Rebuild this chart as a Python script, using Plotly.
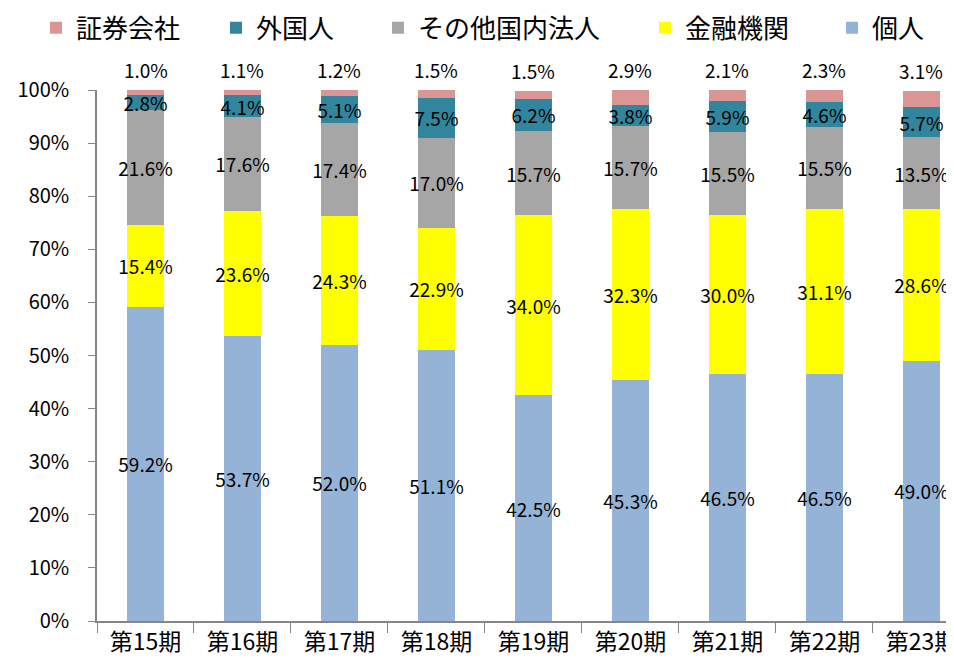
import plotly.graph_objects as go

categories = ["第15期", "第16期", "第17期", "第18期", "第19期", "第20期", "第21期", "第22期", "第23期"]
kojin = [59.2, 53.7, 52.0, 51.1, 42.5, 45.3, 46.5, 46.5, 49.0]
kinyu = [15.4, 23.6, 24.3, 22.9, 34.0, 32.3, 30.0, 31.1, 28.6]
sonota = [21.6, 17.6, 17.4, 17.0, 15.7, 15.7, 15.5, 15.5, 13.5]
gaikoku = [2.8, 4.1, 5.1, 7.5, 6.2, 3.8, 5.9, 4.6, 5.7]
shoken = [1.0, 1.1, 1.2, 1.5, 1.5, 2.9, 2.1, 2.3, 3.1]

series = [
    ("個人", kojin, "#95B3D7", 60),
    ("金融機関", kinyu, "#FFFF00", 142),
    ("その他国内法人", sonota, "#A6A6A6", 222),
    ("外国人", gaikoku, "#31859C", 117),
    ("証券会社", shoken, "#D99694", 135),
]

FONT = "Noto Sans CJK JP"
fig = go.Figure()
for name, vals, color, lw in series:
    inside = name != "証券会社"
    fig.add_trace(go.Bar(
        x=categories, y=vals, name=name,
        marker=dict(color=color, line=dict(width=0)),
        text=[f"{v:.1f}%" for v in vals] if inside else None,
        textposition="inside" if inside else "none",
        insidetextanchor="middle",
        textangle=0,
        constraintext="none",
        textfont=dict(family=FONT, size=19, color="black"),
        width=0.39,
        legendwidth=lw,
        hoverinfo="skip",
    ))

# top labels for 証券会社 (placed at top of stack, capped at axis maximum)
totals = [min(round(a + b + c + d + e, 1), 100.0)
          for a, b, c, d, e in zip(kojin, kinyu, sonota, gaikoku, shoken)]
for cat, tot, v in zip(categories, totals, shoken):
    fig.add_annotation(x=cat, y=tot, text=f"{v:.1f}%", showarrow=False,
                       yanchor="bottom", xanchor="center", yshift=5,
                       font=dict(family=FONT, size=19, color="black"))

fig.update_layout(
    barmode="stack",
    width=954, height=658,
    margin=dict(l=89, r=0, t=82, b=45, autoexpand=False),
    paper_bgcolor="white", plot_bgcolor="white",
    font=dict(family=FONT, size=18, color="black"),
    legend=dict(orientation="h", traceorder="reversed",
                x=-0.0705, xref="paper", xanchor="left",
                y=1.117, yref="paper", yanchor="middle",
                font=dict(family=FONT, size=26), itemwidth=30,
                itemsizing="constant"),
    xaxis=dict(range=[-0.5, 8.418], showline=True, linecolor="#868686", linewidth=1.5,
               ticks="outside", tickson="boundaries", ticklen=10, tickcolor="#868686",
               ticklabelstandoff=0,
               tickfont=dict(family=FONT, size=23), fixedrange=True, automargin=False),
    yaxis=dict(range=[0, 100], tickvals=list(range(0, 101, 10)),
               ticktext=[f"{v}%" for v in range(0, 101, 10)],
               showline=True, linecolor="#868686", linewidth=1.5,
               ticks="outside", ticklen=7, tickcolor="#868686",
               ticklabelstandoff=15,
               showgrid=False, zeroline=False, automargin=False,
               tickfont=dict(family=FONT, size=20)),
)

fig.write_html("out.html")
